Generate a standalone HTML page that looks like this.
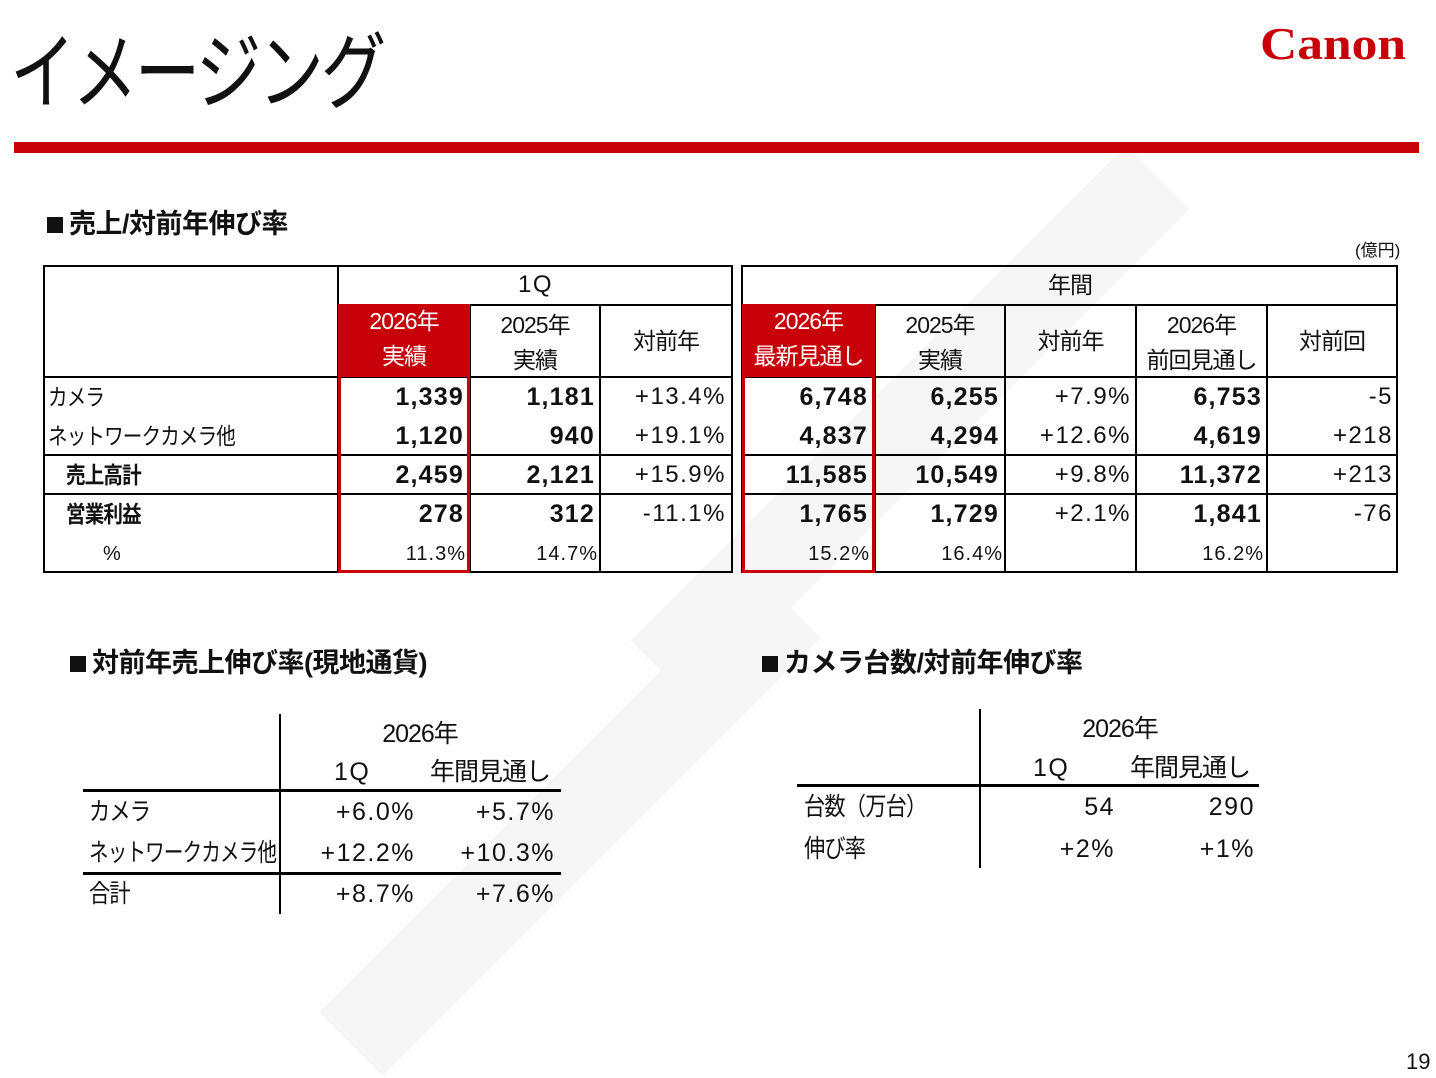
<!DOCTYPE html>
<html><head><meta charset="utf-8"><style>
body{margin:0;width:1436px;height:1078px;background:#fff;position:relative;overflow:hidden;font-family:"Liberation Sans","Noto Sans CJK JP",sans-serif;color:#111}
.a{position:absolute;white-space:nowrap}
.h{position:absolute;background:#000;height:2px}
.v{position:absolute;background:#000;width:2px}
.c{text-align:center}.r{text-align:right}
.t{font-size:24px;line-height:30px;letter-spacing:1.5px}
.b{font-weight:bold;letter-spacing:1.2px;font-size:25px}
.s{font-size:20px;line-height:26px;letter-spacing:1px}
.j{font-size:23px;line-height:30px;letter-spacing:-1px}
.sq{transform:scaleX(.85);transform-origin:left center}
.sec{font-size:27px;font-weight:bold;line-height:32px;letter-spacing:-0.5px}
.sqr{position:absolute;width:16px;height:16px;background:#111}
.bx{position:absolute;border:3px solid #c8000a;box-sizing:border-box}
.rf{position:absolute;background:#c8000a;color:#fff;text-align:center;font-size:23px;line-height:35px;letter-spacing:-1px}
.wm{position:absolute;background:#f6f6f6}
</style></head><body>
<div class="wm" style="left:560px;top:380px;width:700px;height:90px;transform:rotate(-45deg)"></div>
<div class="wm" style="left:260px;top:780px;width:620px;height:90px;transform:rotate(-45deg)"></div>

<div class="a" style="left:10px;top:28px;font-size:84px;line-height:90px;letter-spacing:-4px;transform:scaleX(.78);transform-origin:left center">イメージング</div>
<div class="a" style="left:1260px;top:20px;font-family:'Liberation Serif',serif;font-weight:bold;font-size:46px;line-height:48px;color:#c8000a;transform:scaleX(1.12);transform-origin:left center">Canon</div>
<div class="a" style="left:14px;top:142px;width:1405px;height:11px;background:#c8000a"></div>

<div class="sqr" style="left:47px;top:217px"></div>
<div class="a sec" style="left:69px;top:208px">売上/対前年伸び率</div>
<div class="a" style="left:1355px;top:241px;font-size:17px;line-height:20px">(億円)</div>

<div class="h" style="left:44px;top:265px;width:689px"></div>
<div class="h" style="left:742px;top:265px;width:656px"></div>
<div class="h" style="left:338px;top:304px;width:395px"></div>
<div class="h" style="left:742px;top:304px;width:656px"></div>
<div class="h" style="left:44px;top:376px;width:689px"></div>
<div class="h" style="left:742px;top:376px;width:656px"></div>
<div class="h" style="left:44px;top:454px;width:689px"></div>
<div class="h" style="left:742px;top:454px;width:656px"></div>
<div class="h" style="left:44px;top:493px;width:689px"></div>
<div class="h" style="left:742px;top:493px;width:656px"></div>
<div class="h" style="left:44px;top:571px;width:689px"></div>
<div class="h" style="left:742px;top:571px;width:656px"></div>
<div class="v" style="left:43px;top:265px;height:308px"></div>
<div class="v" style="left:337px;top:265px;height:308px"></div>
<div class="v" style="left:469px;top:304px;height:268px"></div>
<div class="v" style="left:599px;top:304px;height:268px"></div>
<div class="v" style="left:731px;top:265px;height:308px"></div>
<div class="v" style="left:741px;top:265px;height:308px"></div>
<div class="v" style="left:874px;top:304px;height:268px"></div>
<div class="v" style="left:1004px;top:304px;height:268px"></div>
<div class="v" style="left:1135px;top:304px;height:268px"></div>
<div class="v" style="left:1266px;top:304px;height:268px"></div>
<div class="v" style="left:1396px;top:265px;height:308px"></div>

<div class="rf" style="left:338px;top:304px;width:132px;height:73px">2026年<br>実績</div>
<div class="rf" style="left:742px;top:304px;width:133px;height:73px">2026年<br>最新見通し</div>
<div class="bx" style="left:338px;top:304px;width:132px;height:269px"></div>
<div class="bx" style="left:742px;top:304px;width:133px;height:269px"></div>

<div class="a c t" style="left:338px;top:270px;width:395px">1Q</div>
<div class="a c j" style="left:742px;top:270px;width:656px">年間</div>
<div class="a c j" style="left:470px;top:308px;width:130px;line-height:35px">2025年<br>実績</div>
<div class="a c j" style="left:600px;top:326px;width:132px">対前年</div>
<div class="a c j" style="left:875px;top:308px;width:130px;line-height:35px">2025年<br>実績</div>
<div class="a c j" style="left:1005px;top:326px;width:131px">対前年</div>
<div class="a c j" style="left:1136px;top:308px;width:131px;line-height:35px">2026年<br>前回見通し</div>
<div class="a c j" style="left:1267px;top:326px;width:130px">対前回</div>

<div class="a j sq" style="left:48px;top:382px">カメラ</div>
<div class="a j sq" style="left:48px;top:421px">ネットワークカメラ他</div>
<div class="a j sq" style="left:66px;top:460px;font-weight:bold">売上高計</div>
<div class="a j sq" style="left:66px;top:499px;font-weight:bold">営業利益</div>
<div class="a s" style="left:103px;top:541px">%</div>

<div class="a r t b" style="left:338px;width:126px;top:382px">1,339</div>
<div class="a r t b" style="left:470px;width:125px;top:382px">1,181</div>
<div class="a r t" style="left:600px;width:126px;top:382px">+13.4%</div>
<div class="a r t b" style="left:742px;width:126px;top:382px">6,748</div>
<div class="a r t b" style="left:875px;width:124px;top:382px">6,255</div>
<div class="a r t" style="left:1005px;width:126px;top:382px">+7.9%</div>
<div class="a r t b" style="left:1136px;width:126px;top:382px">6,753</div>
<div class="a r t" style="left:1267px;width:126px;top:382px">-5</div>

<div class="a r t b" style="left:338px;width:126px;top:421px">1,120</div>
<div class="a r t b" style="left:470px;width:125px;top:421px">940</div>
<div class="a r t" style="left:600px;width:126px;top:421px">+19.1%</div>
<div class="a r t b" style="left:742px;width:126px;top:421px">4,837</div>
<div class="a r t b" style="left:875px;width:124px;top:421px">4,294</div>
<div class="a r t" style="left:1005px;width:126px;top:421px">+12.6%</div>
<div class="a r t b" style="left:1136px;width:126px;top:421px">4,619</div>
<div class="a r t" style="left:1267px;width:126px;top:421px">+218</div>

<div class="a r t b" style="left:338px;width:126px;top:460px">2,459</div>
<div class="a r t b" style="left:470px;width:125px;top:460px">2,121</div>
<div class="a r t" style="left:600px;width:126px;top:460px">+15.9%</div>
<div class="a r t b" style="left:742px;width:126px;top:460px">11,585</div>
<div class="a r t b" style="left:875px;width:124px;top:460px">10,549</div>
<div class="a r t" style="left:1005px;width:126px;top:460px">+9.8%</div>
<div class="a r t b" style="left:1136px;width:126px;top:460px">11,372</div>
<div class="a r t" style="left:1267px;width:126px;top:460px">+213</div>

<div class="a r t b" style="left:338px;width:126px;top:499px">278</div>
<div class="a r t b" style="left:470px;width:125px;top:499px">312</div>
<div class="a r t" style="left:600px;width:126px;top:499px">-11.1%</div>
<div class="a r t b" style="left:742px;width:126px;top:499px">1,765</div>
<div class="a r t b" style="left:875px;width:124px;top:499px">1,729</div>
<div class="a r t" style="left:1005px;width:126px;top:499px">+2.1%</div>
<div class="a r t b" style="left:1136px;width:126px;top:499px">1,841</div>
<div class="a r t" style="left:1267px;width:126px;top:499px">-76</div>

<div class="a r s" style="left:338px;width:128px;top:541px">11.3%</div>
<div class="a r s" style="left:470px;width:128px;top:541px">14.7%</div>
<div class="a r s" style="left:742px;width:128px;top:541px">15.2%</div>
<div class="a r s" style="left:875px;width:128px;top:541px">16.4%</div>
<div class="a r s" style="left:1136px;width:128px;top:541px">16.2%</div>

<!-- lower left -->
<div class="sqr" style="left:70px;top:656px"></div>
<div class="a sec" style="left:92px;top:647px">対前年売上伸び率(現地通貨)</div>
<div class="v" style="left:279px;top:714px;height:200px"></div>
<div class="h" style="left:83px;top:789px;width:478px;height:3px"></div>
<div class="h" style="left:83px;top:872px;width:478px;height:3px"></div>
<div class="a c j" style="left:280px;top:719px;width:280px;font-size:25px">2026年</div>
<div class="a t" style="left:334px;top:757px;font-size:25px">1Q</div>
<div class="a j" style="left:430px;top:757px;font-size:25px">年間見通し</div>
<div class="a j sq" style="left:89px;top:797px;font-size:25px">カメラ</div>
<div class="a j sq" style="left:89px;top:838px;font-size:25px;transform:scaleX(.78)">ネットワークカメラ他</div>
<div class="a j sq" style="left:89px;top:879px;font-size:25px">合計</div>
<div class="a r t" style="left:280px;width:135px;top:797px;font-size:25px">+6.0%</div>
<div class="a r t" style="left:420px;width:135px;top:797px;font-size:25px">+5.7%</div>
<div class="a r t" style="left:280px;width:135px;top:838px;font-size:25px">+12.2%</div>
<div class="a r t" style="left:420px;width:135px;top:838px;font-size:25px">+10.3%</div>
<div class="a r t" style="left:280px;width:135px;top:879px;font-size:25px">+8.7%</div>
<div class="a r t" style="left:420px;width:135px;top:879px;font-size:25px">+7.6%</div>

<!-- lower right -->
<div class="sqr" style="left:762px;top:656px"></div>
<div class="a sec" style="left:784px;top:647px">カメラ台数/対前年伸び率</div>
<div class="v" style="left:979px;top:709px;height:159px"></div>
<div class="h" style="left:797px;top:784px;width:462px;height:3px"></div>
<div class="a c j" style="left:980px;top:714px;width:280px;font-size:25px">2026年</div>
<div class="a t" style="left:1033px;top:753px;font-size:25px">1Q</div>
<div class="a j" style="left:1130px;top:753px;font-size:25px">年間見通し</div>
<div class="a j sq" style="left:804px;top:792px;font-size:25px">台数（万台）</div>
<div class="a j sq" style="left:804px;top:834px;font-size:25px">伸び率</div>
<div class="a r t" style="left:1000px;width:115px;top:792px;font-size:25px">54</div>
<div class="a r t" style="left:1140px;width:115px;top:792px;font-size:25px">290</div>
<div class="a r t" style="left:1000px;width:115px;top:834px;font-size:25px">+2%</div>
<div class="a r t" style="left:1140px;width:115px;top:834px;font-size:25px">+1%</div>

<div class="a" style="left:1406px;top:1048px;font-size:22px;line-height:28px">19</div>
</body></html>
